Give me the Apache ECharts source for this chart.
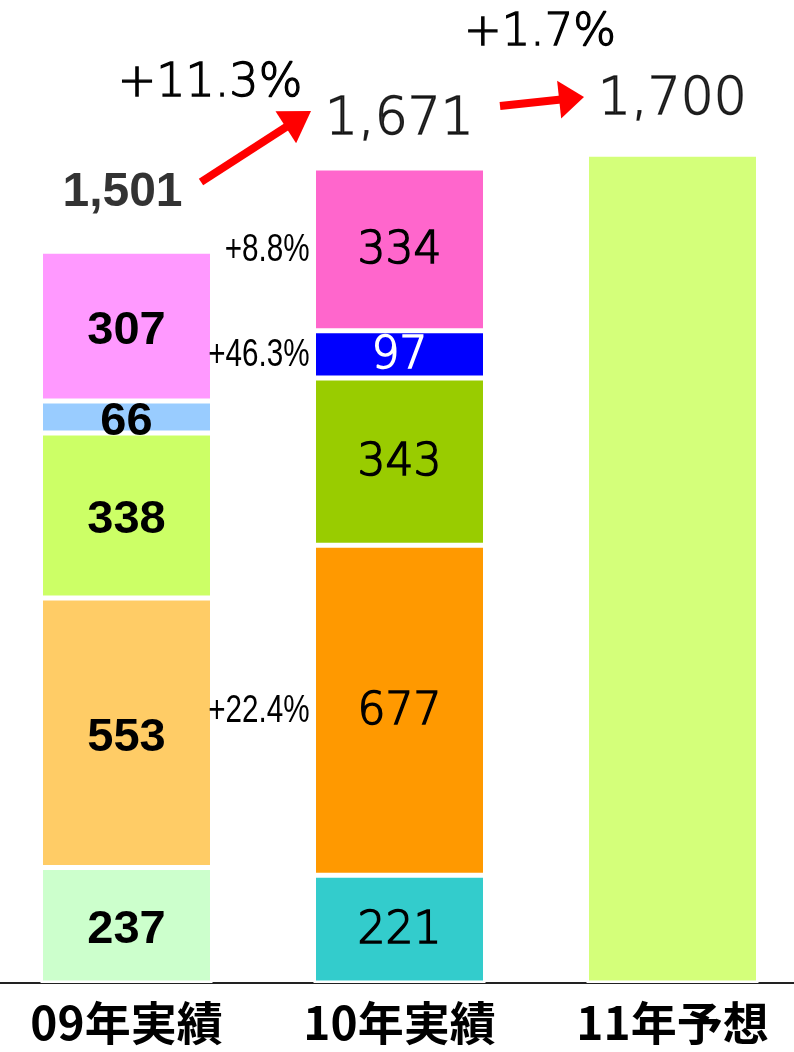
<!DOCTYPE html>
<html>
<head>
<meta charset="utf-8">
<script src="https://cdn.jsdelivr.net/npm/echarts@6/dist/echarts.min.js"></script>
<style>
  html, body { margin: 0; padding: 0; background: #fff; }
  #chart { width: 794px; height: 1052px; }
</style>
</head>
<body>
<div id="chart"></div>
<script>
// Stacked sales breakdown: 09 actual, 10 actual, 11 forecast.
const categories = ["09年実績", "10年実績", "11年予想"]
const layers09 = [237, 553, 338, 66, 307]
const layers10 = [221, 677, 343, 97, 334]
const layers11 = [1700]
const totals = [1501, 1671, 1700]
const colors09 = ["#ccffcc", "#ffcc66", "#ccff66", "#99ccff", "#ff99ff"]
const colors10 = ["#33cccc", "#ff9900", "#99cc00", "#0000ff", "#ff66cc"]
const colors11 = ["#d4ff7a"]
const growth10 = ["", "+22.4%", "", "+46.3%", "+8.8%"]
const totalGrowth = ["+11.3%", "+1.7%"]

const BOLD = "'Liberation Sans', Arial, sans-serif"
const LIGHT = "'DejaVu Sans', sans-serif"
const NARROW = "'Liberation Sans Narrow', 'Liberation Sans', sans-serif"
const BAR_W = 172

const fmt = v => v.toLocaleString("en-US")

// thin geometric digits: extra-light face with a hairline stroke to add weight
const lightText = (size, color) => ({
  fontFamily: LIGHT, fontWeight: 200, fontSize: size, color,
  textBorderColor: color, textBorderWidth: 1.5,
})

const item09 = (v, c) => ({
  value: v,
  itemStyle: {color: c},
  label: {show: true, offset: [0, 5], fontFamily: BOLD, fontWeight: "bold", fontSize: 47, color: "#000"},
})
const item10 = (v, c) => ({
  value: v,
  itemStyle: {color: c},
  label: {show: true, offset: [0, 2], ...lightText(44, c === "#0000ff" ? "#fff" : "#000")},
})
const item11 = (v, c) => ({value: v, itemStyle: {color: c}, label: {show: false}})

const series = layers09.map((_, i) => ({
  type: "bar",
  stack: "total",
  barWidth: BAR_W,
  itemStyle: {borderColor: "#fff", borderWidth: 2.5},
  label: {position: "inside"},
  emphasis: {disabled: true},
  data: [
    item09(layers09[i], colors09[i]),
    item10(layers10[i], colors10[i]),
    layers11[i] != null ? item11(layers11[i], colors11[i]) : "-",
  ],
}))

const totalOffsets = [[-4, -58], [0, -48], [0, -54]]
series.push({
  type: "scatter",
  symbolSize: 1,
  itemStyle: {color: "rgba(0,0,0,0)"},
  silent: true,
  z: 5,
  data: totals.map((t, i) => ({
    value: t,
    label: {
      show: true,
      position: "inside",
      offset: totalOffsets[i],
      formatter: fmt(t),
      ...(i === 0
        ? {fontFamily: BOLD, fontWeight: "bold", fontSize: 48, color: "#000"}
        : lightText(52, "#000")),
    },
  })),
})

const chart = echarts.init(document.getElementById("chart"), null, {renderer: "canvas"})

chart.setOption({
  animation: false,
  backgroundColor: "#fff",
  grid: {left: -10, right: -15, top: 8, bottom: 69, containLabel: false, outerBoundsMode: "none"},
  xAxis: {
    type: "category",
    data: categories,
    axisLine: {lineStyle: {color: "#222", width: 2}},
    axisTick: {show: false},
    axisLabel: {
      margin: 17,
      fontFamily: "'Noto Sans CJK JP', sans-serif",
      fontWeight: "bold",
      fontSize: 46,
      color: "#000",
    },
  },
  yAxis: {type: "value", min: 0, max: 2000, show: false, splitLine: {show: false}},
  series,
})

// annotations: segment growth labels beside the 10 bar, total growth and arrows
function arrow(x0, y0, x1, y1, headLen, headW, w) {
  const len = Math.hypot(x1 - x0, y1 - y0)
  const dx = (x1 - x0) / len, dy = (y1 - y0) / len
  const bx = x1 - dx * headLen, by = y1 - dy * headLen
  const nx = -dy * headW / 2, ny = dx * headW / 2
  return [
    {type: "line", z: 100, shape: {x1: x0, y1: y0, x2: bx + dx * 2, y2: by + dy * 2},
     style: {stroke: "#ff0000", lineWidth: w}},
    {type: "polygon", z: 100, shape: {points: [[x1, y1], [bx + nx, by + ny], [bx - nx, by - ny]]},
     style: {fill: "#ff0000"}},
  ]
}

const graphics = []
let cum = 0
layers10.forEach((v, i) => {
  const mid = cum + v / 2
  cum += v
  if (!growth10[i]) return
  const [x, y] = chart.convertToPixel({seriesIndex: 0}, [1, mid])
  graphics.push({
    type: "text", z: 100, x: x - BAR_W / 2 - 4, y: y + 1, scaleX: 0.78,
    style: {text: growth10[i], font: "38px " + NARROW, fill: "#000",
            align: "right", verticalAlign: "middle"},
  })
})

const bigLight = size => ({font: "200 " + size + "px " + LIGHT, fill: "#000",
                           stroke: "#000", lineWidth: 1.3,
                           align: "center", verticalAlign: "middle"})
graphics.push({type: "text", z: 100, x: 210, y: 84, style: {text: totalGrowth[0], ...bigLight(46)}})
graphics.push({type: "text", z: 100, x: 540, y: 33, style: {text: totalGrowth[1], ...bigLight(45)}})
graphics.push(...arrow(201, 182, 311, 111, 30, 38, 8))
graphics.push(...arrow(500, 106, 584, 97, 25, 38, 8))

chart.setOption({graphic: graphics})
</script>
</body>
</html>
